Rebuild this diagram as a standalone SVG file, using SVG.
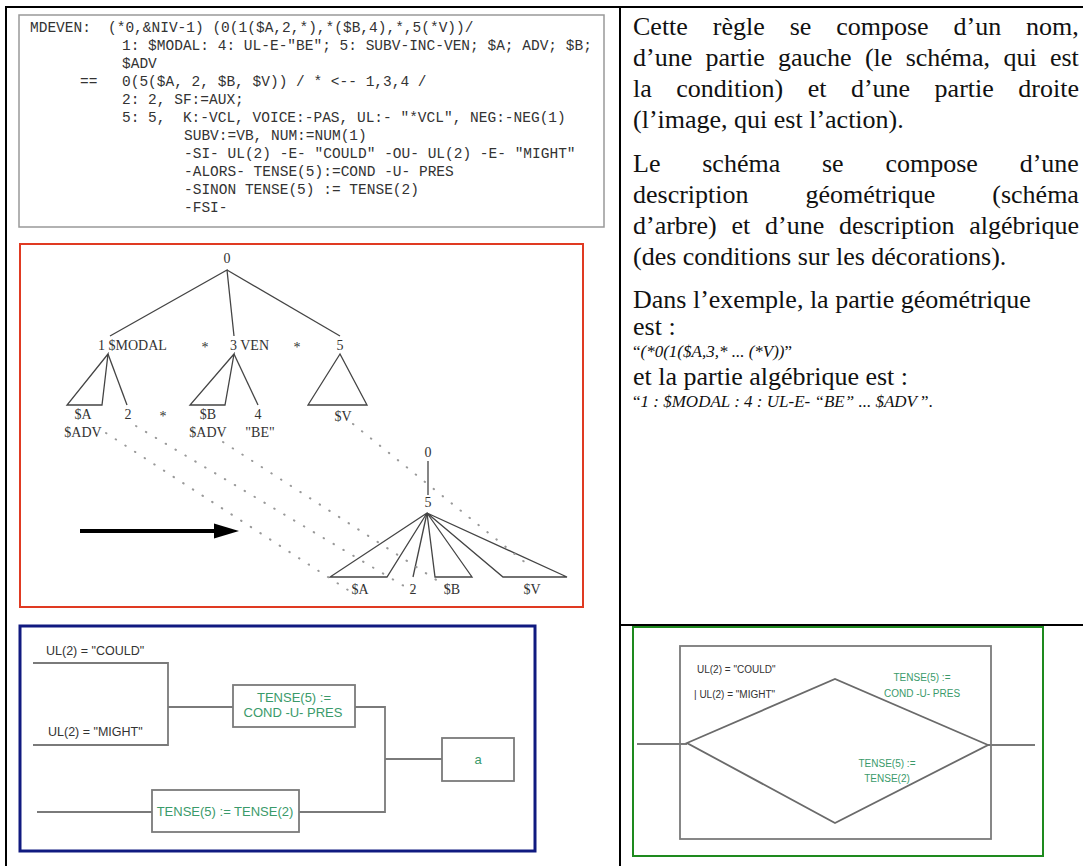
<svg xmlns="http://www.w3.org/2000/svg" width="1083" height="866" viewBox="0 0 1083 866">
<defs>
<style>
.tbl{stroke:#000;stroke-width:2;fill:none}
.code{font-family:"Liberation Mono","Courier New",monospace;font-size:14.5px;fill:#333}
.rt{font-family:"Liberation Serif","Times New Roman",serif;font-size:26px;fill:#111}
.it{font-family:"Liberation Serif","Times New Roman",serif;font-size:17px;fill:#111}
.tl{font-family:"Liberation Serif","Times New Roman",serif;font-size:14px;fill:#333}
.tree{stroke:#444;stroke-width:1.3;fill:none}
.dots{stroke:#999;stroke-width:2;stroke-dasharray:0.5 11;stroke-linecap:round;fill:none}
.flow{stroke:#7a7a7a;stroke-width:1.8;fill:none}
.fbox{stroke:#7a7a7a;stroke-width:1.8;fill:#fff}
.lab{font-family:"Liberation Sans",Arial,sans-serif;font-size:12.5px;fill:#333}
.gl{font-family:"Liberation Sans",Arial,sans-serif;font-size:13px;fill:#3a9a6a;text-anchor:middle}
.lab2{font-family:"Liberation Sans",Arial,sans-serif;font-size:10px;fill:#333}
.gl2{font-family:"Liberation Sans",Arial,sans-serif;font-size:10px;fill:#3a9a6a;text-anchor:middle}
</style>
</defs>
<rect width="1083" height="866" fill="#fff"/>
<g id="table">
<line class="tbl" x1="5" y1="7" x2="1083" y2="7" stroke-width="3"/>
<line class="tbl" x1="6" y1="7" x2="6" y2="866"/>
<line class="tbl" x1="620" y1="7" x2="620" y2="866"/>
<line class="tbl" x1="620" y1="625" x2="1083" y2="625"/>
</g>
<g id="code-box">
<rect x="19" y="15" width="585" height="212" fill="#fff" stroke="#999" stroke-width="1.5"/>
<text class="code" xml:space="preserve"><tspan x="30" y="32">MDEVEN:</tspan><tspan x="108" y="32">(*0,&amp;NIV-1) (0(1($A,2,*),*($B,4),*,5(*V))/</tspan><tspan x="122" y="50">1: $MODAL: 4: UL-E-"BE"; 5: SUBV-INC-VEN; $A; ADV; $B;</tspan><tspan x="122" y="68">$ADV</tspan><tspan x="80" y="86">==</tspan><tspan x="122" y="86">0(5($A, 2, $B, $V)) / * &lt;-- 1,3,4 /</tspan><tspan x="122" y="104">2: 2, SF:=AUX;</tspan><tspan x="122" y="122">5: 5,  K:-VCL, VOICE:-PAS, UL:- "*VCL", NEG:-NEG(1)</tspan><tspan x="184" y="140">SUBV:=VB, NUM:=NUM(1)</tspan><tspan x="184" y="158">-SI- UL(2) -E- "COULD" -OU- UL(2) -E- "MIGHT"</tspan><tspan x="184" y="176">-ALORS- TENSE(5):=COND -U- PRES</tspan><tspan x="184" y="194">-SINON TENSE(5) := TENSE(2)</tspan><tspan x="184" y="212">-FSI-</tspan></text>
</g>
<g id="tree-box">
<rect x="20" y="244" width="563" height="363" fill="#fff" stroke="#e03a22" stroke-width="2"/>
</g>
<g id="connectors">
<g id="tree-edges">
<polyline class="tree" points="110,336 227,270 234,336"/>
<line class="tree" x1="227" y1="270" x2="340" y2="336"/>
<polygon class="tree" points="108,354 67,405 102,405"/>
<line class="tree" x1="108" y1="354" x2="127" y2="405"/>
<polygon class="tree" points="234,354 190,405 225,405"/>
<line class="tree" x1="234" y1="354" x2="258" y2="405"/>
<polygon class="tree" points="340,354 308,405 367,405"/>
<line class="tree" x1="428" y1="461" x2="428" y2="495"/>
<polygon class="tree" points="427,513 330,577 387,577"/>
<line class="tree" x1="427" y1="513" x2="413" y2="577"/>
<polygon class="tree" points="427,513 435,577 472,577"/>
<polygon class="tree" points="427,513 503,577 567,577"/>
</g>
<g id="mapping-dots">
<line class="dots" x1="106" y1="433" x2="348" y2="590"/>
<line class="dots" x1="136" y1="426" x2="414" y2="592"/>
<line class="dots" x1="223" y1="442" x2="452" y2="590"/>
<line class="dots" x1="353" y1="424" x2="532" y2="568"/>
</g>
<g id="big-arrow">
<line x1="80" y1="531" x2="220" y2="531" stroke="#000" stroke-width="4"/>
<polygon points="214,523.5 239,531 214,538.5" fill="#000"/>
</g>
<g id="flow-lines">
<polyline class="flow" points="33,663 168,663 168,745 33,745"/>
<line class="flow" x1="168" y1="707" x2="233" y2="707"/>
<polyline class="flow" points="355,707 385,707 385,812 299,812"/>
<line class="flow" x1="385" y1="759" x2="442" y2="759"/>
<line class="flow" x1="37" y1="812" x2="152" y2="812"/>
<line class="flow" x1="637" y1="744" x2="687" y2="744"/>
<line class="flow" x1="988" y1="745" x2="1035" y2="745"/>
</g>
</g>
<g id="tree-labels">
<text class="tl" x="227" y="263" text-anchor="middle">0</text>
<text class="tl" x="98" y="350">1 $MODAL</text>
<text class="tl" x="205" y="352" text-anchor="middle">*</text>
<text class="tl" x="230" y="350">3 VEN</text>
<text class="tl" x="297" y="352" text-anchor="middle">*</text>
<text class="tl" x="340" y="350" text-anchor="middle">5</text>
<text class="tl" x="83" y="419" text-anchor="middle">$A</text>
<text class="tl" x="128" y="419" text-anchor="middle">2</text>
<text class="tl" x="163" y="421" text-anchor="middle">*</text>
<text class="tl" x="208" y="419" text-anchor="middle">$B</text>
<text class="tl" x="258" y="419" text-anchor="middle">4</text>
<text class="tl" x="343" y="421" text-anchor="middle">$V</text>
<text class="tl" x="83" y="437" text-anchor="middle">$ADV</text>
<text class="tl" x="208" y="437" text-anchor="middle">$ADV</text>
<text class="tl" x="260" y="437" text-anchor="middle">"BE"</text>
<text class="tl" x="428" y="457" text-anchor="middle">0</text>
<text class="tl" x="428" y="507" text-anchor="middle">5</text>
<text class="tl" x="360" y="594" text-anchor="middle">$A</text>
<text class="tl" x="413" y="594" text-anchor="middle">2</text>
<text class="tl" x="452" y="594" text-anchor="middle">$B</text>
<text class="tl" x="532" y="594" text-anchor="middle">$V</text>
</g>
<g id="flow-box">
<rect x="20" y="626" width="515" height="225" fill="none" stroke="#101a80" stroke-width="3"/>
<text class="lab" x="46" y="655">UL(2) = "COULD"</text>
<text class="lab" x="48" y="736">UL(2) = "MIGHT"</text>
</g>
<g id="node-cond">
<rect class="fbox" x="233" y="685" width="122" height="42"/>
<text class="gl" x="294" y="702">TENSE(5) :=</text>
<text class="gl" x="293" y="717">COND -U- PRES</text>
</g>
<g id="node-a">
<rect class="fbox" x="442" y="738" width="72" height="43"/>
<text class="gl" x="478" y="764">a</text>
</g>
<g id="node-tense2">
<rect class="fbox" x="152" y="790" width="147" height="42"/>
<text class="gl" x="225" y="816">TENSE(5) := TENSE(2)</text>
</g>
<g id="diamond-box">
<rect x="633" y="627" width="410" height="229" fill="none" stroke="#1e8a1e" stroke-width="2"/>
<rect x="680" y="646" width="311" height="193" fill="none" stroke="#7a7a7a" stroke-width="1.8"/>
<polygon points="687,743 835,679 988,745 835,823" fill="none" stroke="#6a6a6a" stroke-width="1.8"/>
<text class="lab2" x="697" y="673">UL(2) = "COULD"</text>
<text class="lab2" x="694" y="698">| UL(2) = "MIGHT"</text>
<text class="gl2" x="922" y="681">TENSE(5) :=</text>
<text class="gl2" x="922" y="697">COND -U- PRES</text>
<text class="gl2" x="887" y="767">TENSE(5) :=</text>
<text class="gl2" x="887" y="782">TENSE(2)</text>
</g>
<g id="right-text">
<text class="rt" x="633" y="35" word-spacing="18.4">Cette règle se compose d’un nom,</text>
<text class="rt" x="633" y="66" word-spacing="6.8">d’une partie gauche (le schéma, qui est</text>
<text class="rt" x="633" y="97" word-spacing="18">la condition) et d’une partie droite</text>
<text class="rt" x="633" y="128">(l’image, qui est l’action).</text>
<text class="rt" x="633" y="172" word-spacing="35.3">Le schéma se compose d’une</text>
<text class="rt" x="633" y="203" word-spacing="50.4">description géométrique (schéma</text>
<text class="rt" x="633" y="234" word-spacing="8.25">d’arbre) et d’une description algébrique</text>
<text class="rt" x="633" y="265">(des conditions sur les décorations).</text>
<text class="rt" x="633" y="308">Dans l’exemple, la partie géométrique</text>
<text class="rt" x="633" y="335">est :</text>
<text class="it" x="633" y="357">“<tspan font-style="italic">(*0(1($A,3,* ... (*V))</tspan>”</text>
<text class="rt" x="633" y="385">et la partie algébrique est :</text>
<text class="it" x="633" y="407">“<tspan font-style="italic">1 : $MODAL : 4 : UL-E- “BE” ... $ADV </tspan>”.</text>
</g>
</svg>
